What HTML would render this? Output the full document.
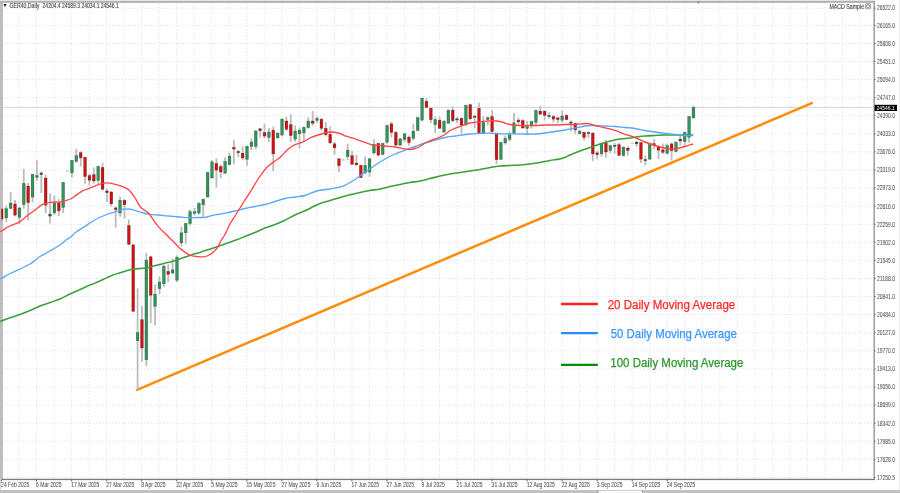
<!DOCTYPE html>
<html><head><meta charset="utf-8"><title>GER40 Daily</title>
<style>html,body{margin:0;padding:0;background:#fff;overflow:hidden}svg{display:block;filter:blur(0.35px)}</style>
</head><body>
<svg width="900" height="493" viewBox="0 0 900 493">
<rect x="0" y="0" width="900" height="493" fill="#ffffff"/>
<rect x="0" y="0" width="2.9" height="479.5" fill="#bdbdbd"/>
<rect x="0" y="479" width="1" height="11" fill="#d4d4d4"/>
<path d="M19.0,3V478.9 M36.5,3V478.9 M54.0,3V478.9 M71.6,3V478.9 M89.1,3V478.9 M106.6,3V478.9 M124.1,3V478.9 M141.6,3V478.9 M159.2,3V478.9 M176.7,3V478.9 M194.2,3V478.9 M211.7,3V478.9 M229.2,3V478.9 M246.8,3V478.9 M264.3,3V478.9 M281.8,3V478.9 M299.3,3V478.9 M316.8,3V478.9 M334.4,3V478.9 M351.9,3V478.9 M369.4,3V478.9 M386.9,3V478.9 M404.4,3V478.9 M422.0,3V478.9 M439.5,3V478.9 M457.0,3V478.9 M474.5,3V478.9 M492.0,3V478.9 M509.6,3V478.9 M527.1,3V478.9 M544.6,3V478.9 M562.1,3V478.9 M579.6,3V478.9 M597.2,3V478.9 M614.7,3V478.9 M632.2,3V478.9 M649.7,3V478.9 M667.2,3V478.9 M684.8,3V478.9 M702.3,3V478.9 M719.8,3V478.9 M737.3,3V478.9 M754.8,3V478.9 M772.4,3V478.9 M789.9,3V478.9 M807.4,3V478.9 M824.9,3V478.9 M842.4,3V478.9 M860.0,3V478.9 M3,8.2H873.2 M3,25.4H873.2 M3,43.5H873.2 M3,61.5H873.2 M3,79.6H873.2 M3,97.7H873.2 M3,115.8H873.2 M3,133.9H873.2 M3,151.9H873.2 M3,170.0H873.2 M3,188.1H873.2 M3,206.2H873.2 M3,224.3H873.2 M3,242.3H873.2 M3,260.4H873.2 M3,278.5H873.2 M3,296.6H873.2 M3,314.7H873.2 M3,332.7H873.2 M3,350.8H873.2 M3,368.9H873.2 M3,387.0H873.2 M3,405.1H873.2 M3,423.1H873.2 M3,441.2H873.2 M3,459.3H873.2 M3,477.4H873.2" stroke="#e2e8f3" stroke-width="1" stroke-dasharray="1.6 1.6" fill="none"/>
<path d="M3,107.4H873.2" stroke="#c9d5ea" stroke-width="1" fill="none"/>
<path d="M137.0,389.9L811.8,103.1" stroke="#ff8d0a" stroke-width="2.5" stroke-linecap="round" fill="none"/>
<path d="M1.90,205.2V222.4 M6.28,205.7V221.9 M10.65,192.0V209.3 M15.03,200.1V216.3 M19.41,206.7V224.0 M23.78,168.8V208.7 M28.16,182.9V220.4 M32.54,173.8V202.2 M36.92,160.4V181.0 M41.29,171.4V193.0 M45.67,174.7V213.3 M50.05,193.5V223.4 M54.42,195.6V214.8 M58.80,199.1V216.3 M63.18,182.0V213.0 M71.93,160.0V177.4 M76.31,149.0V162.8 M80.69,151.3V166.5 M85.06,156.4V183.8 M89.44,173.8V185.6 M93.82,167.4V183.8 M98.19,165.6V183.8 M102.57,162.8V190.2 M106.95,188.4V202.0 M111.33,191.0V206.6 M115.70,206.6V227.6 M120.08,196.6V216.7 M124.46,199.3V218.5 M128.83,219.4V244.9 M133.21,243.7V312.0 M137.59,288.2V390.0 M141.96,306.1V361.6 M146.34,252.8V366.0 M150.72,255.8V323.0 M155.09,284.4V325.5 M159.47,276.5V294.2 M163.85,265.0V286.9 M168.23,264.3V282.0 M172.60,258.3V274.1 M176.98,255.2V282.0 M181.36,226.4V246.5 M185.73,222.8V243.8 M190.11,209.4V225.8 M194.49,207.9V215.2 M198.87,202.0V214.8 M203.24,198.4V216.7 M207.62,172.0V197.5 M212.00,160.0V178.3 M216.37,158.3V187.8 M220.75,164.6V178.3 M225.13,157.3V173.8 M229.50,152.8V165.6 M233.88,140.0V164.6 M238.26,150.0V157.3 M242.63,146.5V160.2 M247.01,145.5V165.7 M251.39,138.3V150.2 M255.77,130.1V149.3 M260.14,128.3V137.4 M264.52,123.7V138.3 M268.90,128.3V142.0 M273.27,126.5V171.2 M277.65,132.0V138.3 M282.03,118.3V136.5 M286.40,116.4V131.0 M290.78,114.2V142.0 M295.16,125.6V142.0 M299.54,127.4V148.4 M303.91,126.5V141.0 M308.29,117.3V128.8 M312.67,111.0V125.6 M317.04,116.4V122.8 M321.42,118.3V130.1 M325.80,121.9V136.5 M330.17,126.5V143.8 M334.55,142.0V154.8 M338.93,158.0V172.1 M347.68,143.8V160.2 M352.06,151.1V164.8 M356.44,154.8V165.7 M360.81,164.8V178.1 M365.19,156.6V173.9 M369.57,158.0V176.7 M373.94,139.2V154.4 M378.32,142.4V156.6 M382.70,142.9V154.8 M387.08,124.6V143.8 M391.45,122.0V137.5 M395.83,131.1V145.7 M400.21,137.8V146.2 M404.58,132.9V142.0 M408.96,135.6V145.7 M413.34,123.8V140.2 M417.71,116.5V131.1 M422.09,97.7V121.0 M426.47,98.2V108.3 M430.85,107.3V122.9 M435.22,116.5V132.9 M439.60,116.5V129.2 M443.98,120.1V132.9 M448.35,109.2V123.8 M452.73,106.4V121.9 M457.11,117.0V122.9 M461.48,117.4V133.8 M465.86,104.6V126.5 M470.24,103.7V120.1 M474.62,114.6V128.3 M478.99,102.8V133.8 M483.37,116.5V133.8 M487.75,116.5V125.6 M492.12,110.1V132.4 M496.50,132.4V163.9 M500.88,141.5V159.7 M505.25,135.6V144.4 M509.63,131.6V141.1 M514.01,112.8V133.8 M518.39,117.4V125.6 M522.76,119.2V128.7 M527.14,121.0V135.2 M531.52,120.6V128.8 M535.89,109.6V125.1 M540.27,106.0V115.1 M544.65,110.5V120.6 M549.02,112.3V118.7 M553.40,115.1V122.4 M557.78,116.9V123.3 M562.16,110.5V122.4 M566.53,114.2V120.2 M570.91,120.6V131.5 M575.29,122.4V134.2 M579.66,129.7V134.2 M584.04,131.5V140.6 M588.42,131.5V137.9 M592.79,132.4V161.0 M597.17,151.1V159.3 M601.55,142.9V156.6 M605.93,140.1V157.8 M610.30,144.7V152.9 M614.68,142.9V153.8 M619.06,142.9V156.0 M623.43,146.5V156.6 M627.81,146.5V155.6 M636.56,141.0V146.5 M640.94,142.0V162.9 M645.32,155.4V165.5 M649.70,143.1V160.0 M654.07,139.0V149.5 M658.45,145.4V159.1 M662.83,143.4V153.8 M667.20,143.4V154.3 M671.58,142.8V160.4 M675.96,141.6V152.5 M680.33,136.1V145.2 M684.71,131.5V146.1 M689.09,116.0V142.8 M693.47,105.6V118.7" stroke="#bcbcbc" stroke-width="1.8" fill="none"/>
<rect x="1.3" y="208.7" width="1.9" height="10.7" fill="#9a1818"/>
<rect x="4.88" y="208.7" width="2.8" height="9.2" fill="#31945a" stroke="#000" stroke-opacity=".4" stroke-width=".5"/>
<rect x="9.25" y="203.0" width="2.8" height="5.4" fill="#31945a" stroke="#000" stroke-opacity=".4" stroke-width=".5"/>
<rect x="13.63" y="204.0" width="2.8" height="11.1" fill="#d01212" stroke="#000" stroke-opacity=".4" stroke-width=".5"/>
<rect x="18.01" y="208.0" width="2.8" height="9.4" fill="#31945a" stroke="#000" stroke-opacity=".4" stroke-width=".5"/>
<rect x="22.38" y="183.4" width="2.8" height="21.3" fill="#31945a" stroke="#000" stroke-opacity=".4" stroke-width=".5"/>
<rect x="26.76" y="186.0" width="2.8" height="16.7" fill="#d01212" stroke="#000" stroke-opacity=".4" stroke-width=".5"/>
<rect x="31.14" y="174.3" width="2.8" height="22.8" fill="#31945a" stroke="#000" stroke-opacity=".4" stroke-width=".5"/>
<rect x="35.52" y="175.6" width="2.8" height="1.8" fill="#31945a" stroke="#000" stroke-opacity=".4" stroke-width=".5"/>
<rect x="39.89" y="172.9" width="2.8" height="1.8" fill="#555555" stroke="#000" stroke-opacity=".4" stroke-width=".5"/>
<rect x="44.27" y="178.0" width="2.8" height="27.2" fill="#d01212" stroke="#000" stroke-opacity=".4" stroke-width=".5"/>
<rect x="48.65" y="214.1" width="2.8" height="2.0" fill="#2a6040" stroke="#000" stroke-opacity=".4" stroke-width=".5"/>
<rect x="53.02" y="203.2" width="2.8" height="9.6" fill="#31945a" stroke="#000" stroke-opacity=".4" stroke-width=".5"/>
<rect x="57.40" y="203.2" width="2.8" height="7.6" fill="#d01212" stroke="#000" stroke-opacity=".4" stroke-width=".5"/>
<rect x="61.78" y="182.4" width="2.8" height="25.1" fill="#31945a" stroke="#000" stroke-opacity=".4" stroke-width=".5"/>
<rect x="66.06" y="170.4" width="3" height="1.2" fill="#8fe08f"/>
<rect x="70.53" y="160.4" width="2.8" height="12.5" fill="#31945a" stroke="#000" stroke-opacity=".4" stroke-width=".5"/>
<rect x="74.91" y="155.5" width="2.8" height="6.0" fill="#31945a" stroke="#000" stroke-opacity=".4" stroke-width=".5"/>
<rect x="79.29" y="152.6" width="2.8" height="5.3" fill="#d01212" stroke="#000" stroke-opacity=".4" stroke-width=".5"/>
<rect x="83.66" y="157.3" width="2.8" height="19.2" fill="#d01212" stroke="#000" stroke-opacity=".4" stroke-width=".5"/>
<rect x="88.04" y="175.6" width="2.8" height="4.7" fill="#d01212" stroke="#000" stroke-opacity=".4" stroke-width=".5"/>
<rect x="92.42" y="174.7" width="2.8" height="6.3" fill="#d01212" stroke="#000" stroke-opacity=".4" stroke-width=".5"/>
<rect x="96.79" y="166.5" width="2.8" height="14.0" fill="#31945a" stroke="#000" stroke-opacity=".4" stroke-width=".5"/>
<rect x="101.17" y="167.4" width="2.8" height="21.9" fill="#d01212" stroke="#000" stroke-opacity=".4" stroke-width=".5"/>
<rect x="105.55" y="191.0" width="2.8" height="1.6" fill="#8a1c1c" stroke="#000" stroke-opacity=".4" stroke-width=".5"/>
<rect x="109.92" y="192.0" width="2.8" height="11.9" fill="#d01212" stroke="#000" stroke-opacity=".4" stroke-width=".5"/>
<rect x="114.30" y="207.9" width="2.8" height="1.8" fill="#d01212" stroke="#000" stroke-opacity=".4" stroke-width=".5"/>
<rect x="118.68" y="200.2" width="2.8" height="12.8" fill="#31945a" stroke="#000" stroke-opacity=".4" stroke-width=".5"/>
<rect x="123.06" y="200.2" width="2.8" height="4.6" fill="#d01212" stroke="#000" stroke-opacity=".4" stroke-width=".5"/>
<rect x="127.43" y="225.5" width="2.8" height="18.8" fill="#d01212" stroke="#000" stroke-opacity=".4" stroke-width=".5"/>
<rect x="131.81" y="244.9" width="2.8" height="66.4" fill="#d01212" stroke="#000" stroke-opacity=".4" stroke-width=".5"/>
<rect x="136.19" y="332.5" width="2.8" height="8.2" fill="#31945a" stroke="#000" stroke-opacity=".4" stroke-width=".5"/>
<rect x="140.56" y="319.7" width="2.8" height="28.3" fill="#d01212" stroke="#000" stroke-opacity=".4" stroke-width=".5"/>
<rect x="144.94" y="260.1" width="2.8" height="99.7" fill="#31945a" stroke="#000" stroke-opacity=".4" stroke-width=".5"/>
<rect x="149.32" y="256.8" width="2.8" height="38.4" fill="#d01212" stroke="#000" stroke-opacity=".4" stroke-width=".5"/>
<rect x="153.69" y="294.2" width="2.8" height="12.2" fill="#31945a" stroke="#000" stroke-opacity=".4" stroke-width=".5"/>
<rect x="158.07" y="282.0" width="2.8" height="6.7" fill="#31945a" stroke="#000" stroke-opacity=".4" stroke-width=".5"/>
<rect x="162.45" y="266.2" width="2.8" height="17.6" fill="#31945a" stroke="#000" stroke-opacity=".4" stroke-width=".5"/>
<rect x="166.83" y="271.4" width="2.8" height="2.9" fill="#d01212" stroke="#000" stroke-opacity=".4" stroke-width=".5"/>
<rect x="171.20" y="269.8" width="2.8" height="3.3" fill="#31945a" stroke="#000" stroke-opacity=".4" stroke-width=".5"/>
<rect x="175.58" y="257.2" width="2.8" height="23.0" fill="#31945a" stroke="#000" stroke-opacity=".4" stroke-width=".5"/>
<rect x="179.96" y="232.8" width="2.8" height="10.1" fill="#31945a" stroke="#000" stroke-opacity=".4" stroke-width=".5"/>
<rect x="184.33" y="223.5" width="2.8" height="9.3" fill="#31945a" stroke="#000" stroke-opacity=".4" stroke-width=".5"/>
<rect x="188.71" y="211.7" width="2.8" height="11.8" fill="#31945a" stroke="#000" stroke-opacity=".4" stroke-width=".5"/>
<rect x="193.09" y="211.6" width="2.8" height="1.8" fill="#31945a" stroke="#000" stroke-opacity=".4" stroke-width=".5"/>
<rect x="197.47" y="203.5" width="2.8" height="9.5" fill="#31945a" stroke="#000" stroke-opacity=".4" stroke-width=".5"/>
<rect x="201.84" y="199.3" width="2.8" height="5.5" fill="#31945a" stroke="#000" stroke-opacity=".4" stroke-width=".5"/>
<rect x="206.22" y="172.5" width="2.8" height="24.5" fill="#31945a" stroke="#000" stroke-opacity=".4" stroke-width=".5"/>
<rect x="210.60" y="161.9" width="2.8" height="16.1" fill="#31945a" stroke="#000" stroke-opacity=".4" stroke-width=".5"/>
<rect x="214.97" y="163.4" width="2.8" height="6.7" fill="#d01212" stroke="#000" stroke-opacity=".4" stroke-width=".5"/>
<rect x="219.35" y="166.5" width="2.8" height="5.5" fill="#d01212" stroke="#000" stroke-opacity=".4" stroke-width=".5"/>
<rect x="223.73" y="161.5" width="2.8" height="11.7" fill="#31945a" stroke="#000" stroke-opacity=".4" stroke-width=".5"/>
<rect x="228.10" y="156.0" width="2.8" height="8.6" fill="#31945a" stroke="#000" stroke-opacity=".4" stroke-width=".5"/>
<rect x="232.48" y="147.3" width="2.8" height="1.8" fill="#d01212" stroke="#000" stroke-opacity=".4" stroke-width=".5"/>
<rect x="236.86" y="151.3" width="2.8" height="1.5" fill="#555555" stroke="#000" stroke-opacity=".4" stroke-width=".5"/>
<rect x="241.23" y="153.2" width="2.8" height="4.8" fill="#d01212" stroke="#000" stroke-opacity=".4" stroke-width=".5"/>
<rect x="245.61" y="146.4" width="2.8" height="12.9" fill="#31945a" stroke="#000" stroke-opacity=".4" stroke-width=".5"/>
<rect x="249.99" y="142.0" width="2.8" height="4.5" fill="#31945a" stroke="#000" stroke-opacity=".4" stroke-width=".5"/>
<rect x="254.37" y="131.0" width="2.8" height="15.5" fill="#31945a" stroke="#000" stroke-opacity=".4" stroke-width=".5"/>
<rect x="258.74" y="128.8" width="2.8" height="1.9" fill="#8a1c1c" stroke="#000" stroke-opacity=".4" stroke-width=".5"/>
<rect x="263.12" y="132.5" width="2.8" height="3.6" fill="#d01212" stroke="#000" stroke-opacity=".4" stroke-width=".5"/>
<rect x="267.50" y="132.0" width="2.8" height="5.4" fill="#31945a" stroke="#000" stroke-opacity=".4" stroke-width=".5"/>
<rect x="271.87" y="130.1" width="2.8" height="23.8" fill="#d01212" stroke="#000" stroke-opacity=".4" stroke-width=".5"/>
<rect x="276.25" y="133.2" width="2.8" height="4.8" fill="#31945a" stroke="#000" stroke-opacity=".4" stroke-width=".5"/>
<rect x="280.63" y="119.2" width="2.8" height="15.8" fill="#31945a" stroke="#000" stroke-opacity=".4" stroke-width=".5"/>
<rect x="285.00" y="121.0" width="2.8" height="8.2" fill="#d01212" stroke="#000" stroke-opacity=".4" stroke-width=".5"/>
<rect x="289.38" y="124.6" width="2.8" height="11.0" fill="#d01212" stroke="#000" stroke-opacity=".4" stroke-width=".5"/>
<rect x="293.76" y="131.0" width="2.8" height="8.2" fill="#31945a" stroke="#000" stroke-opacity=".4" stroke-width=".5"/>
<rect x="298.14" y="130.1" width="2.8" height="3.7" fill="#31945a" stroke="#000" stroke-opacity=".4" stroke-width=".5"/>
<rect x="302.51" y="127.4" width="2.8" height="5.5" fill="#31945a" stroke="#000" stroke-opacity=".4" stroke-width=".5"/>
<rect x="306.89" y="121.0" width="2.8" height="6.7" fill="#31945a" stroke="#000" stroke-opacity=".4" stroke-width=".5"/>
<rect x="311.27" y="121.0" width="2.8" height="2.4" fill="#d01212" stroke="#000" stroke-opacity=".4" stroke-width=".5"/>
<rect x="315.64" y="118.3" width="2.8" height="2.1" fill="#31945a" stroke="#000" stroke-opacity=".4" stroke-width=".5"/>
<rect x="320.02" y="119.2" width="2.8" height="9.1" fill="#d01212" stroke="#000" stroke-opacity=".4" stroke-width=".5"/>
<rect x="324.40" y="128.3" width="2.8" height="6.4" fill="#d01212" stroke="#000" stroke-opacity=".4" stroke-width=".5"/>
<rect x="328.77" y="134.3" width="2.8" height="8.6" fill="#d01212" stroke="#000" stroke-opacity=".4" stroke-width=".5"/>
<rect x="333.15" y="143.8" width="2.8" height="4.0" fill="#d01212" stroke="#000" stroke-opacity=".4" stroke-width=".5"/>
<rect x="337.53" y="158.8" width="2.8" height="6.9" fill="#d01212" stroke="#000" stroke-opacity=".4" stroke-width=".5"/>
<rect x="341.81" y="159.3" width="3" height="1.2" fill="#8fe08f"/>
<rect x="346.28" y="150.2" width="2.8" height="6.4" fill="#31945a" stroke="#000" stroke-opacity=".4" stroke-width=".5"/>
<rect x="350.66" y="155.7" width="2.8" height="8.6" fill="#d01212" stroke="#000" stroke-opacity=".4" stroke-width=".5"/>
<rect x="355.04" y="163.0" width="2.8" height="1.8" fill="#d01212" stroke="#000" stroke-opacity=".4" stroke-width=".5"/>
<rect x="359.41" y="165.4" width="2.8" height="12.2" fill="#d01212" stroke="#000" stroke-opacity=".4" stroke-width=".5"/>
<rect x="363.79" y="165.4" width="2.8" height="7.6" fill="#31945a" stroke="#000" stroke-opacity=".4" stroke-width=".5"/>
<rect x="368.17" y="158.8" width="2.8" height="13.3" fill="#31945a" stroke="#000" stroke-opacity=".4" stroke-width=".5"/>
<rect x="372.54" y="144.7" width="2.8" height="8.2" fill="#31945a" stroke="#000" stroke-opacity=".4" stroke-width=".5"/>
<rect x="376.92" y="143.4" width="2.8" height="11.7" fill="#d01212" stroke="#000" stroke-opacity=".4" stroke-width=".5"/>
<rect x="381.30" y="143.4" width="2.8" height="11.2" fill="#31945a" stroke="#000" stroke-opacity=".4" stroke-width=".5"/>
<rect x="385.68" y="125.6" width="2.8" height="16.6" fill="#31945a" stroke="#000" stroke-opacity=".4" stroke-width=".5"/>
<rect x="390.05" y="123.8" width="2.8" height="8.6" fill="#d01212" stroke="#000" stroke-opacity=".4" stroke-width=".5"/>
<rect x="394.43" y="132.4" width="2.8" height="12.7" fill="#d01212" stroke="#000" stroke-opacity=".4" stroke-width=".5"/>
<rect x="398.81" y="138.9" width="2.8" height="6.2" fill="#31945a" stroke="#000" stroke-opacity=".4" stroke-width=".5"/>
<rect x="403.18" y="133.8" width="2.8" height="5.9" fill="#31945a" stroke="#000" stroke-opacity=".4" stroke-width=".5"/>
<rect x="407.56" y="137.1" width="2.8" height="5.5" fill="#d01212" stroke="#000" stroke-opacity=".4" stroke-width=".5"/>
<rect x="411.94" y="131.1" width="2.8" height="7.3" fill="#31945a" stroke="#000" stroke-opacity=".4" stroke-width=".5"/>
<rect x="416.31" y="117.7" width="2.8" height="12.8" fill="#31945a" stroke="#000" stroke-opacity=".4" stroke-width=".5"/>
<rect x="420.69" y="98.2" width="2.8" height="21.9" fill="#31945a" stroke="#000" stroke-opacity=".4" stroke-width=".5"/>
<rect x="425.07" y="101.3" width="2.8" height="6.0" fill="#d01212" stroke="#000" stroke-opacity=".4" stroke-width=".5"/>
<rect x="429.45" y="108.3" width="2.8" height="11.3" fill="#d01212" stroke="#000" stroke-opacity=".4" stroke-width=".5"/>
<rect x="433.82" y="119.6" width="2.8" height="5.1" fill="#31945a" stroke="#000" stroke-opacity=".4" stroke-width=".5"/>
<rect x="438.20" y="120.1" width="2.8" height="8.2" fill="#d01212" stroke="#000" stroke-opacity=".4" stroke-width=".5"/>
<rect x="442.58" y="121.4" width="2.8" height="10.6" fill="#31945a" stroke="#000" stroke-opacity=".4" stroke-width=".5"/>
<rect x="446.95" y="110.4" width="2.8" height="12.8" fill="#31945a" stroke="#000" stroke-opacity=".4" stroke-width=".5"/>
<rect x="451.33" y="110.1" width="2.8" height="10.6" fill="#d01212" stroke="#000" stroke-opacity=".4" stroke-width=".5"/>
<rect x="455.71" y="118.8" width="2.8" height="1.2" fill="#555555" stroke="#000" stroke-opacity=".4" stroke-width=".5"/>
<rect x="460.08" y="118.3" width="2.8" height="6.7" fill="#d01212" stroke="#000" stroke-opacity=".4" stroke-width=".5"/>
<rect x="464.46" y="105.5" width="2.8" height="19.2" fill="#31945a" stroke="#000" stroke-opacity=".4" stroke-width=".5"/>
<rect x="468.84" y="104.6" width="2.8" height="14.2" fill="#d01212" stroke="#000" stroke-opacity=".4" stroke-width=".5"/>
<rect x="473.22" y="116.1" width="2.8" height="1.3" fill="#555555" stroke="#000" stroke-opacity=".4" stroke-width=".5"/>
<rect x="477.59" y="108.3" width="2.8" height="24.6" fill="#d01212" stroke="#000" stroke-opacity=".4" stroke-width=".5"/>
<rect x="481.97" y="122.5" width="2.8" height="10.4" fill="#31945a" stroke="#000" stroke-opacity=".4" stroke-width=".5"/>
<rect x="486.35" y="117.7" width="2.8" height="1.9" fill="#31945a" stroke="#000" stroke-opacity=".4" stroke-width=".5"/>
<rect x="490.72" y="116.5" width="2.8" height="15.1" fill="#d01212" stroke="#000" stroke-opacity=".4" stroke-width=".5"/>
<rect x="495.10" y="133.8" width="2.8" height="25.9" fill="#d01212" stroke="#000" stroke-opacity=".4" stroke-width=".5"/>
<rect x="499.48" y="142.6" width="2.8" height="16.8" fill="#31945a" stroke="#000" stroke-opacity=".4" stroke-width=".5"/>
<rect x="503.85" y="138.4" width="2.8" height="4.5" fill="#31945a" stroke="#000" stroke-opacity=".4" stroke-width=".5"/>
<rect x="508.23" y="134.7" width="2.8" height="4.6" fill="#31945a" stroke="#000" stroke-opacity=".4" stroke-width=".5"/>
<rect x="512.61" y="122.9" width="2.8" height="10.5" fill="#31945a" stroke="#000" stroke-opacity=".4" stroke-width=".5"/>
<rect x="516.99" y="120.1" width="2.8" height="1.8" fill="#d01212" stroke="#000" stroke-opacity=".4" stroke-width=".5"/>
<rect x="521.36" y="120.5" width="2.8" height="7.5" fill="#d01212" stroke="#000" stroke-opacity=".4" stroke-width=".5"/>
<rect x="525.74" y="126.5" width="2.8" height="1.8" fill="#31945a" stroke="#000" stroke-opacity=".4" stroke-width=".5"/>
<rect x="530.12" y="121.5" width="2.8" height="3.6" fill="#31945a" stroke="#000" stroke-opacity=".4" stroke-width=".5"/>
<rect x="534.49" y="110.5" width="2.8" height="11.9" fill="#31945a" stroke="#000" stroke-opacity=".4" stroke-width=".5"/>
<rect x="538.87" y="111.1" width="2.8" height="3.1" fill="#d01212" stroke="#000" stroke-opacity=".4" stroke-width=".5"/>
<rect x="543.25" y="111.1" width="2.8" height="4.3" fill="#d01212" stroke="#000" stroke-opacity=".4" stroke-width=".5"/>
<rect x="547.62" y="115.4" width="2.8" height="1.2" fill="#555555" stroke="#000" stroke-opacity=".4" stroke-width=".5"/>
<rect x="552.00" y="116.5" width="2.8" height="2.6" fill="#d01212" stroke="#000" stroke-opacity=".4" stroke-width=".5"/>
<rect x="556.38" y="117.8" width="2.8" height="1.8" fill="#d01212" stroke="#000" stroke-opacity=".4" stroke-width=".5"/>
<rect x="560.76" y="116.0" width="2.8" height="4.2" fill="#31945a" stroke="#000" stroke-opacity=".4" stroke-width=".5"/>
<rect x="565.13" y="115.4" width="2.8" height="4.2" fill="#d01212" stroke="#000" stroke-opacity=".4" stroke-width=".5"/>
<rect x="569.51" y="122.0" width="2.8" height="1.3" fill="#555555" stroke="#000" stroke-opacity=".4" stroke-width=".5"/>
<rect x="573.89" y="123.3" width="2.8" height="6.7" fill="#d01212" stroke="#000" stroke-opacity=".4" stroke-width=".5"/>
<rect x="578.26" y="131.1" width="2.8" height="2.6" fill="#31945a" stroke="#000" stroke-opacity=".4" stroke-width=".5"/>
<rect x="582.64" y="132.4" width="2.8" height="5.0" fill="#d01212" stroke="#000" stroke-opacity=".4" stroke-width=".5"/>
<rect x="587.02" y="132.4" width="2.8" height="1.3" fill="#555555" stroke="#000" stroke-opacity=".4" stroke-width=".5"/>
<rect x="591.39" y="133.0" width="2.8" height="20.8" fill="#d01212" stroke="#000" stroke-opacity=".4" stroke-width=".5"/>
<rect x="595.77" y="152.9" width="2.8" height="1.8" fill="#d01212" stroke="#000" stroke-opacity=".4" stroke-width=".5"/>
<rect x="600.15" y="143.8" width="2.8" height="10.0" fill="#31945a" stroke="#000" stroke-opacity=".4" stroke-width=".5"/>
<rect x="604.53" y="143.2" width="2.8" height="8.8" fill="#d01212" stroke="#000" stroke-opacity=".4" stroke-width=".5"/>
<rect x="608.90" y="145.6" width="2.8" height="4.9" fill="#31945a" stroke="#000" stroke-opacity=".4" stroke-width=".5"/>
<rect x="613.28" y="145.2" width="2.8" height="1.3" fill="#555555" stroke="#000" stroke-opacity=".4" stroke-width=".5"/>
<rect x="617.66" y="144.7" width="2.8" height="10.6" fill="#d01212" stroke="#000" stroke-opacity=".4" stroke-width=".5"/>
<rect x="622.03" y="147.1" width="2.8" height="8.5" fill="#31945a" stroke="#000" stroke-opacity=".4" stroke-width=".5"/>
<rect x="626.41" y="148.0" width="2.8" height="2.5" fill="#d01212" stroke="#000" stroke-opacity=".4" stroke-width=".5"/>
<rect x="630.69" y="142.6" width="3" height="1.2" fill="#8fe08f"/>
<rect x="635.16" y="142.0" width="2.8" height="1.8" fill="#2a6040" stroke="#000" stroke-opacity=".4" stroke-width=".5"/>
<rect x="639.54" y="142.5" width="2.8" height="16.6" fill="#d01212" stroke="#000" stroke-opacity=".4" stroke-width=".5"/>
<rect x="643.92" y="159.4" width="2.8" height="1.4" fill="#555555" stroke="#000" stroke-opacity=".4" stroke-width=".5"/>
<rect x="648.30" y="143.8" width="2.8" height="15.3" fill="#31945a" stroke="#000" stroke-opacity=".4" stroke-width=".5"/>
<rect x="652.67" y="143.6" width="2.8" height="2.0" fill="#d01212" stroke="#000" stroke-opacity=".4" stroke-width=".5"/>
<rect x="657.05" y="146.5" width="2.8" height="3.7" fill="#d01212" stroke="#000" stroke-opacity=".4" stroke-width=".5"/>
<rect x="661.43" y="149.8" width="2.8" height="2.6" fill="#d01212" stroke="#000" stroke-opacity=".4" stroke-width=".5"/>
<rect x="665.80" y="145.7" width="2.8" height="7.7" fill="#31945a" stroke="#000" stroke-opacity=".4" stroke-width=".5"/>
<rect x="670.18" y="143.9" width="2.8" height="6.8" fill="#d01212" stroke="#000" stroke-opacity=".4" stroke-width=".5"/>
<rect x="674.56" y="142.1" width="2.8" height="9.5" fill="#31945a" stroke="#000" stroke-opacity=".4" stroke-width=".5"/>
<rect x="678.93" y="139.2" width="2.8" height="1.8" fill="#8a1c1c" stroke="#000" stroke-opacity=".4" stroke-width=".5"/>
<rect x="683.31" y="132.4" width="2.8" height="9.2" fill="#31945a" stroke="#000" stroke-opacity=".4" stroke-width=".5"/>
<rect x="687.69" y="116.5" width="2.8" height="20.9" fill="#31945a" stroke="#000" stroke-opacity=".4" stroke-width=".5"/>
<rect x="692.07" y="107.4" width="2.8" height="10.4" fill="#31945a" stroke="#000" stroke-opacity=".4" stroke-width=".5"/>
<path d="M0.00,321.50C0.33,321.38 0.33,321.42 2.00,320.80C3.67,320.18 7.00,318.85 10.00,317.80C13.00,316.75 16.67,315.72 20.00,314.50C23.33,313.28 26.67,311.92 30.00,310.50C33.33,309.08 36.67,307.33 40.00,306.00C43.33,304.67 46.67,303.67 50.00,302.50C53.33,301.33 56.67,300.42 60.00,299.00C63.33,297.58 66.67,295.58 70.00,294.00C73.33,292.42 76.67,291.00 80.00,289.50C83.33,288.00 87.50,286.07 90.00,285.00C92.50,283.93 92.82,284.02 95.00,283.10C97.18,282.18 100.40,280.72 103.10,279.50C105.80,278.28 108.50,276.88 111.20,275.80C113.90,274.72 116.60,273.88 119.30,273.00C122.00,272.12 125.10,271.12 127.40,270.50C129.70,269.88 131.07,269.63 133.10,269.30C135.13,268.97 137.17,268.77 139.60,268.50C142.03,268.23 145.67,268.03 147.70,267.70C149.73,267.37 149.77,267.03 151.80,266.50C153.83,265.97 157.70,265.05 159.90,264.50C162.10,263.95 162.67,263.77 165.00,263.20C167.33,262.63 170.90,262.00 173.90,261.10C176.90,260.20 179.97,258.87 183.00,257.80C186.03,256.73 189.27,255.60 192.10,254.70C194.93,253.80 196.83,253.40 200.00,252.40C203.17,251.40 207.43,249.93 211.10,248.70C214.77,247.47 217.85,246.45 222.00,245.00C226.15,243.55 232.17,241.42 236.00,240.00C239.83,238.58 241.83,237.75 245.00,236.50C248.17,235.25 251.67,233.92 255.00,232.50C258.33,231.08 261.67,229.33 265.00,228.00C268.33,226.67 271.67,225.80 275.00,224.50C278.33,223.20 281.67,221.78 285.00,220.20C288.33,218.62 291.67,216.57 295.00,215.00C298.33,213.43 301.67,212.33 305.00,210.80C308.33,209.27 312.17,207.13 315.00,205.80C317.83,204.47 319.50,203.68 322.00,202.80C324.50,201.92 327.00,201.38 330.00,200.50C333.00,199.62 336.67,198.45 340.00,197.50C343.33,196.55 346.67,195.63 350.00,194.80C353.33,193.97 356.67,193.22 360.00,192.50C363.33,191.78 366.67,191.08 370.00,190.50C373.33,189.92 376.67,189.67 380.00,189.00C383.33,188.33 386.67,187.25 390.00,186.50C393.33,185.75 396.67,185.17 400.00,184.50C403.33,183.83 406.67,183.08 410.00,182.50C413.33,181.92 416.67,181.67 420.00,181.00C423.33,180.33 426.67,179.33 430.00,178.50C433.33,177.67 436.67,176.75 440.00,176.00C443.33,175.25 446.67,174.58 450.00,174.00C453.33,173.42 456.67,173.00 460.00,172.50C463.33,172.00 466.67,171.50 470.00,171.00C473.33,170.50 476.67,170.08 480.00,169.50C483.33,168.92 486.67,168.08 490.00,167.50C493.33,166.92 496.67,166.33 500.00,166.00C503.33,165.67 506.67,165.67 510.00,165.50C513.33,165.33 516.67,165.25 520.00,165.00C523.33,164.75 526.67,164.42 530.00,164.00C533.33,163.58 536.67,163.08 540.00,162.50C543.33,161.92 546.67,161.08 550.00,160.50C553.33,159.92 557.33,159.58 560.00,159.00C562.67,158.42 564.33,157.67 566.00,157.00C567.67,156.33 567.67,156.00 570.00,155.00C572.33,154.00 576.67,152.25 580.00,151.00C583.33,149.75 586.67,148.67 590.00,147.50C593.33,146.33 597.50,144.83 600.00,144.00C602.50,143.17 602.50,143.17 605.00,142.50C607.50,141.83 611.67,140.67 615.00,140.00C618.33,139.33 621.67,138.97 625.00,138.50C628.33,138.03 631.67,137.62 635.00,137.20C638.33,136.78 641.67,136.28 645.00,136.00C648.33,135.72 651.67,135.67 655.00,135.50C658.33,135.33 658.67,135.08 665.00,135.00C671.33,134.92 688.33,135.00 693.00,135.00" stroke="#3c9f3c" stroke-width="1.55" fill="none" stroke-linejoin="round"/>
<path d="M0.00,278.50C0.33,278.42 0.33,278.83 2.00,278.00C3.67,277.17 7.00,275.00 10.00,273.50C13.00,272.00 16.67,270.58 20.00,269.00C23.33,267.42 27.50,265.42 30.00,264.00C32.50,262.58 33.33,261.75 35.00,260.50C36.67,259.25 37.50,258.08 40.00,256.50C42.50,254.92 46.67,252.92 50.00,251.00C53.33,249.08 57.25,246.88 60.00,245.00C62.75,243.12 64.83,240.95 66.50,239.70C68.17,238.45 68.38,238.78 70.00,237.50C71.62,236.22 73.82,233.78 76.20,232.00C78.58,230.22 81.60,228.55 84.30,226.80C87.00,225.05 89.68,223.13 92.40,221.50C95.12,219.87 97.88,218.28 100.60,217.00C103.32,215.72 106.00,214.73 108.70,213.80C111.40,212.87 114.78,212.05 116.80,211.40C118.82,210.75 119.43,210.27 120.80,209.90C122.17,209.53 123.47,209.33 125.00,209.20C126.53,209.07 128.62,209.00 130.00,209.10C131.38,209.20 131.37,209.25 133.30,209.80C135.23,210.35 138.82,211.63 141.60,212.40C144.38,213.17 147.22,213.97 150.00,214.40C152.78,214.83 155.53,214.77 158.30,215.00C161.07,215.23 163.83,215.53 166.60,215.80C169.37,216.07 172.13,216.35 174.90,216.60C177.67,216.85 180.42,217.13 183.20,217.30C185.98,217.47 188.82,217.57 191.60,217.60C194.38,217.63 197.67,217.53 199.90,217.50C202.13,217.47 203.62,217.55 205.00,217.40C206.38,217.25 206.53,217.02 208.20,216.60C209.87,216.18 212.20,215.47 215.00,214.90C217.80,214.33 221.67,213.85 225.00,213.20C228.33,212.55 231.67,211.78 235.00,211.00C238.33,210.22 241.67,209.25 245.00,208.50C248.33,207.75 251.67,207.17 255.00,206.50C258.33,205.83 261.67,205.33 265.00,204.50C268.33,203.67 271.67,202.50 275.00,201.50C278.33,200.50 281.67,199.25 285.00,198.50C288.33,197.75 291.67,197.50 295.00,197.00C298.33,196.50 301.38,196.50 305.00,195.50C308.62,194.50 312.53,192.08 316.70,191.00C320.87,189.92 325.62,189.80 330.00,189.00C334.38,188.20 339.67,187.28 343.00,186.20C346.33,185.12 348.00,183.62 350.00,182.50C352.00,181.38 353.33,180.58 355.00,179.50C356.67,178.42 358.33,177.20 360.00,176.00C361.67,174.80 363.33,173.50 365.00,172.30C366.67,171.10 368.33,169.98 370.00,168.80C371.67,167.62 372.50,166.83 375.00,165.20C377.50,163.57 381.67,160.87 385.00,159.00C388.33,157.13 391.67,155.50 395.00,154.00C398.33,152.50 401.67,151.25 405.00,150.00C408.33,148.75 411.67,147.67 415.00,146.50C418.33,145.33 421.67,144.08 425.00,143.00C428.33,141.92 431.67,140.92 435.00,140.00C438.33,139.08 441.67,138.17 445.00,137.50C448.33,136.83 450.83,136.58 455.00,136.00C459.17,135.42 465.83,134.42 470.00,134.00C474.17,133.58 476.67,133.63 480.00,133.50C483.33,133.37 486.67,133.15 490.00,133.20C493.33,133.25 496.67,133.70 500.00,133.80C503.33,133.90 505.83,133.77 510.00,133.80C514.17,133.83 520.83,133.97 525.00,134.00C529.17,134.03 531.67,134.17 535.00,134.00C538.33,133.83 541.67,133.42 545.00,133.00C548.33,132.58 551.67,132.00 555.00,131.50C558.33,131.00 561.67,130.58 565.00,130.00C568.33,129.42 571.67,128.67 575.00,128.00C578.33,127.33 582.50,126.42 585.00,126.00C587.50,125.58 588.33,125.58 590.00,125.50C591.67,125.42 592.50,125.42 595.00,125.50C597.50,125.58 601.67,125.83 605.00,126.00C608.33,126.17 611.67,126.25 615.00,126.50C618.33,126.75 621.67,127.17 625.00,127.50C628.33,127.83 631.67,128.00 635.00,128.50C638.33,129.00 641.67,129.92 645.00,130.50C648.33,131.08 651.67,131.50 655.00,132.00C658.33,132.50 661.67,133.08 665.00,133.50C668.33,133.92 671.67,134.17 675.00,134.50C678.33,134.83 681.92,135.33 685.00,135.50C688.08,135.67 692.08,135.50 693.50,135.50" stroke="#55a8fb" stroke-width="1.35" fill="none" stroke-linejoin="round"/>
<path d="M0.00,231.50C0.42,231.33 1.48,231.08 2.50,230.50C3.52,229.92 4.83,228.75 6.10,228.00C7.37,227.25 8.58,226.68 10.10,226.00C11.62,225.32 13.67,224.53 15.20,223.90C16.73,223.27 17.95,223.03 19.30,222.20C20.65,221.37 21.78,220.13 23.30,218.90C24.82,217.67 26.72,216.07 28.40,214.80C30.08,213.53 31.72,212.57 33.40,211.30C35.08,210.03 36.97,208.35 38.50,207.20C40.03,206.05 41.35,205.05 42.60,204.40C43.85,203.75 44.65,203.65 46.00,203.30C47.35,202.95 49.08,202.52 50.70,202.30C52.32,202.08 54.15,202.02 55.70,202.00C57.25,201.98 58.45,202.40 60.00,202.20C61.55,202.00 63.25,201.33 65.00,200.80C66.75,200.27 69.17,199.55 70.50,199.00C71.83,198.45 71.07,198.82 73.00,197.50C74.93,196.18 79.42,192.62 82.10,191.10C84.78,189.58 86.40,189.47 89.10,188.40C91.80,187.33 95.55,185.62 98.30,184.70C101.05,183.78 103.48,183.13 105.60,182.90C107.72,182.67 109.18,183.00 111.00,183.30C112.82,183.60 114.37,184.07 116.50,184.70C118.63,185.33 121.67,186.18 123.80,187.10C125.93,188.02 127.47,188.47 129.30,190.20C131.13,191.93 133.02,194.80 134.80,197.50C136.58,200.20 138.58,204.42 140.00,206.40C141.42,208.38 142.20,208.53 143.30,209.40C144.40,210.27 145.48,210.67 146.60,211.60C147.72,212.53 148.05,212.50 150.00,215.00C151.95,217.50 155.53,223.28 158.30,226.60C161.07,229.92 163.83,232.13 166.60,234.90C169.37,237.67 172.68,240.97 174.90,243.20C177.12,245.43 178.52,247.03 179.90,248.30C181.28,249.57 182.08,249.97 183.20,250.80C184.32,251.63 185.20,252.48 186.60,253.30C188.00,254.12 189.95,255.17 191.60,255.70C193.25,256.23 194.57,256.30 196.50,256.50C198.43,256.70 201.25,257.07 203.20,256.90C205.15,256.73 206.53,256.28 208.20,255.50C209.87,254.72 211.67,253.52 213.20,252.20C214.73,250.88 216.03,249.63 217.40,247.60C218.77,245.57 220.13,242.18 221.40,240.00C222.67,237.82 223.57,237.17 225.00,234.50C226.43,231.83 228.33,227.08 230.00,224.00C231.67,220.92 233.33,218.67 235.00,216.00C236.67,213.33 238.33,210.67 240.00,208.00C241.67,205.33 242.92,203.28 245.00,200.00C247.08,196.72 250.32,191.80 252.50,188.30C254.68,184.80 256.48,181.50 258.10,179.00C259.72,176.50 260.85,175.13 262.20,173.30C263.55,171.47 264.85,169.48 266.20,168.00C267.55,166.52 268.93,165.48 270.30,164.40C271.67,163.32 273.05,162.45 274.40,161.50C275.75,160.55 277.05,159.78 278.40,158.70C279.75,157.62 281.15,156.35 282.50,155.00C283.85,153.65 285.15,151.88 286.50,150.60C287.85,149.32 289.25,148.25 290.60,147.30C291.95,146.35 293.03,145.58 294.60,144.90C296.17,144.22 298.27,143.85 300.00,143.20C301.73,142.55 303.33,141.87 305.00,141.00C306.67,140.13 308.33,138.83 310.00,138.00C311.67,137.17 312.50,136.83 315.00,136.00C317.50,135.17 322.17,133.67 325.00,133.00C327.83,132.33 329.50,131.92 332.00,132.00C334.50,132.08 337.83,132.87 340.00,133.50C342.17,134.13 342.50,134.92 345.00,135.80C347.50,136.68 351.67,137.72 355.00,138.80C358.33,139.88 362.33,141.33 365.00,142.30C367.67,143.27 369.33,144.18 371.00,144.60C372.67,145.02 372.67,144.57 375.00,144.80C377.33,145.03 381.67,145.63 385.00,146.00C388.33,146.37 391.67,146.50 395.00,147.00C398.33,147.50 402.50,148.58 405.00,149.00C407.50,149.42 408.33,149.58 410.00,149.50C411.67,149.42 413.33,149.00 415.00,148.50C416.67,148.00 418.33,147.42 420.00,146.50C421.67,145.58 423.33,143.92 425.00,143.00C426.67,142.08 428.33,141.67 430.00,141.00C431.67,140.33 433.33,139.67 435.00,139.00C436.67,138.33 438.33,137.75 440.00,137.00C441.67,136.25 443.33,135.58 445.00,134.50C446.67,133.42 448.33,131.53 450.00,130.50C451.67,129.47 453.33,129.00 455.00,128.30C456.67,127.60 457.50,127.18 460.00,126.30C462.50,125.42 466.67,123.75 470.00,123.00C473.33,122.25 476.67,122.17 480.00,121.80C483.33,121.43 486.67,120.85 490.00,120.80C493.33,120.75 496.67,120.88 500.00,121.50C503.33,122.12 506.67,123.82 510.00,124.50C513.33,125.18 515.83,125.43 520.00,125.60C524.17,125.77 530.83,125.60 535.00,125.50C539.17,125.40 541.67,125.08 545.00,125.00C548.33,124.92 551.67,125.08 555.00,125.00C558.33,124.92 561.67,124.58 565.00,124.50C568.33,124.42 571.67,124.67 575.00,124.50C578.33,124.33 582.50,123.62 585.00,123.50C587.50,123.38 588.33,123.47 590.00,123.80C591.67,124.13 592.50,124.83 595.00,125.50C597.50,126.17 601.67,126.98 605.00,127.80C608.33,128.62 611.67,129.32 615.00,130.40C618.33,131.48 621.67,133.12 625.00,134.30C628.33,135.48 631.67,136.22 635.00,137.50C638.33,138.78 641.67,140.67 645.00,142.00C648.33,143.33 651.67,144.50 655.00,145.50C658.33,146.50 662.50,147.45 665.00,148.00C667.50,148.55 668.33,148.67 670.00,148.80C671.67,148.93 672.50,149.18 675.00,148.80C677.50,148.42 682.00,147.30 685.00,146.50C688.00,145.70 691.67,144.42 693.00,144.00" stroke="#ff4646" stroke-width="1.35" fill="none" stroke-linejoin="round"/>
<rect x="0" y="0" width="875" height="1" fill="#e4e4e4"/>
<rect x="0" y="1.1" width="875.0" height="1.7" fill="#ababab"/>
<rect x="873.4" y="1" width="1.6" height="479.0" fill="#a4a4a4"/>
<rect x="2" y="478.8" width="873.0" height="1.3" fill="#7a7a7a"/>
<rect x="899" y="0" width="1" height="493" fill="#ececec"/>
<path d="M696.1,1.2H700.5L698.3,4.1Z" fill="#7f96b6"/>
<rect x="0" y="490" width="900" height="3" fill="#c2c2c2"/>
<rect x="597.6" y="490" width="45.5" height="3" fill="#8c8c8c"/>
<rect x="598.4" y="490.4" width="43.9" height="2.6" fill="#f9f9f9"/>
<path d="M874.2,8.2h1.4 M874.2,25.4h1.4 M874.2,43.5h1.4 M874.2,61.5h1.4 M874.2,79.6h1.4 M874.2,97.7h1.4 M874.2,115.8h1.4 M874.2,133.9h1.4 M874.2,151.9h1.4 M874.2,170.0h1.4 M874.2,188.1h1.4 M874.2,206.2h1.4 M874.2,224.3h1.4 M874.2,242.3h1.4 M874.2,260.4h1.4 M874.2,278.5h1.4 M874.2,296.6h1.4 M874.2,314.7h1.4 M874.2,332.7h1.4 M874.2,350.8h1.4 M874.2,368.9h1.4 M874.2,387.0h1.4 M874.2,405.1h1.4 M874.2,423.1h1.4 M874.2,441.2h1.4 M874.2,459.3h1.4 M874.2,477.4h1.4" stroke="#555" stroke-width="0.9"/>
<path d="M1.5,479.4v2 M36.5,479.4v2 M71.6,479.4v2 M106.6,479.4v2 M141.6,479.4v2 M176.7,479.4v2 M211.7,479.4v2 M246.8,479.4v2 M281.8,479.4v2 M316.8,479.4v2 M351.9,479.4v2 M386.9,479.4v2 M422.0,479.4v2 M457.0,479.4v2 M492.0,479.4v2 M527.1,479.4v2 M562.1,479.4v2 M597.2,479.4v2 M632.2,479.4v2 M667.2,479.4v2" stroke="#555" stroke-width="0.9"/>
<text x="877.0" y="9.7" font-size="6.7" font-family="Liberation Sans, Arial, sans-serif" fill="#555555" stroke="#555555" stroke-width="0.06" textLength="18.0" lengthAdjust="spacingAndGlyphs">26522.0</text>
<text x="877.0" y="27.7" font-size="6.7" font-family="Liberation Sans, Arial, sans-serif" fill="#555555" stroke="#555555" stroke-width="0.06" textLength="18.0" lengthAdjust="spacingAndGlyphs">26165.0</text>
<text x="877.0" y="45.8" font-size="6.7" font-family="Liberation Sans, Arial, sans-serif" fill="#555555" stroke="#555555" stroke-width="0.06" textLength="18.0" lengthAdjust="spacingAndGlyphs">25808.0</text>
<text x="877.0" y="63.9" font-size="6.7" font-family="Liberation Sans, Arial, sans-serif" fill="#555555" stroke="#555555" stroke-width="0.06" textLength="18.0" lengthAdjust="spacingAndGlyphs">25451.0</text>
<text x="877.0" y="82.0" font-size="6.7" font-family="Liberation Sans, Arial, sans-serif" fill="#555555" stroke="#555555" stroke-width="0.06" textLength="18.0" lengthAdjust="spacingAndGlyphs">25094.0</text>
<text x="877.0" y="100.0" font-size="6.7" font-family="Liberation Sans, Arial, sans-serif" fill="#555555" stroke="#555555" stroke-width="0.06" textLength="18.0" lengthAdjust="spacingAndGlyphs">24747.0</text>
<text x="877.0" y="118.1" font-size="6.7" font-family="Liberation Sans, Arial, sans-serif" fill="#555555" stroke="#555555" stroke-width="0.06" textLength="18.0" lengthAdjust="spacingAndGlyphs">24390.0</text>
<text x="877.0" y="136.2" font-size="6.7" font-family="Liberation Sans, Arial, sans-serif" fill="#555555" stroke="#555555" stroke-width="0.06" textLength="18.0" lengthAdjust="spacingAndGlyphs">24033.0</text>
<text x="877.0" y="154.3" font-size="6.7" font-family="Liberation Sans, Arial, sans-serif" fill="#555555" stroke="#555555" stroke-width="0.06" textLength="18.0" lengthAdjust="spacingAndGlyphs">23676.0</text>
<text x="877.0" y="172.4" font-size="6.7" font-family="Liberation Sans, Arial, sans-serif" fill="#555555" stroke="#555555" stroke-width="0.06" textLength="18.0" lengthAdjust="spacingAndGlyphs">23319.0</text>
<text x="877.0" y="190.4" font-size="6.7" font-family="Liberation Sans, Arial, sans-serif" fill="#555555" stroke="#555555" stroke-width="0.06" textLength="18.0" lengthAdjust="spacingAndGlyphs">22973.0</text>
<text x="877.0" y="208.5" font-size="6.7" font-family="Liberation Sans, Arial, sans-serif" fill="#555555" stroke="#555555" stroke-width="0.06" textLength="18.0" lengthAdjust="spacingAndGlyphs">22616.0</text>
<text x="877.0" y="226.6" font-size="6.7" font-family="Liberation Sans, Arial, sans-serif" fill="#555555" stroke="#555555" stroke-width="0.06" textLength="18.0" lengthAdjust="spacingAndGlyphs">22259.0</text>
<text x="877.0" y="244.7" font-size="6.7" font-family="Liberation Sans, Arial, sans-serif" fill="#555555" stroke="#555555" stroke-width="0.06" textLength="18.0" lengthAdjust="spacingAndGlyphs">21902.0</text>
<text x="877.0" y="262.8" font-size="6.7" font-family="Liberation Sans, Arial, sans-serif" fill="#555555" stroke="#555555" stroke-width="0.06" textLength="18.0" lengthAdjust="spacingAndGlyphs">21545.0</text>
<text x="877.0" y="280.9" font-size="6.7" font-family="Liberation Sans, Arial, sans-serif" fill="#555555" stroke="#555555" stroke-width="0.06" textLength="18.0" lengthAdjust="spacingAndGlyphs">21188.0</text>
<text x="877.0" y="298.9" font-size="6.7" font-family="Liberation Sans, Arial, sans-serif" fill="#555555" stroke="#555555" stroke-width="0.06" textLength="18.0" lengthAdjust="spacingAndGlyphs">20841.0</text>
<text x="877.0" y="317.0" font-size="6.7" font-family="Liberation Sans, Arial, sans-serif" fill="#555555" stroke="#555555" stroke-width="0.06" textLength="18.0" lengthAdjust="spacingAndGlyphs">20484.0</text>
<text x="877.0" y="335.1" font-size="6.7" font-family="Liberation Sans, Arial, sans-serif" fill="#555555" stroke="#555555" stroke-width="0.06" textLength="18.0" lengthAdjust="spacingAndGlyphs">20127.0</text>
<text x="877.0" y="353.2" font-size="6.7" font-family="Liberation Sans, Arial, sans-serif" fill="#555555" stroke="#555555" stroke-width="0.06" textLength="18.0" lengthAdjust="spacingAndGlyphs">19770.0</text>
<text x="877.0" y="371.2" font-size="6.7" font-family="Liberation Sans, Arial, sans-serif" fill="#555555" stroke="#555555" stroke-width="0.06" textLength="18.0" lengthAdjust="spacingAndGlyphs">19413.0</text>
<text x="877.0" y="389.3" font-size="6.7" font-family="Liberation Sans, Arial, sans-serif" fill="#555555" stroke="#555555" stroke-width="0.06" textLength="18.0" lengthAdjust="spacingAndGlyphs">19056.0</text>
<text x="877.0" y="407.4" font-size="6.7" font-family="Liberation Sans, Arial, sans-serif" fill="#555555" stroke="#555555" stroke-width="0.06" textLength="18.0" lengthAdjust="spacingAndGlyphs">18699.0</text>
<text x="877.0" y="425.5" font-size="6.7" font-family="Liberation Sans, Arial, sans-serif" fill="#555555" stroke="#555555" stroke-width="0.06" textLength="18.0" lengthAdjust="spacingAndGlyphs">18342.0</text>
<text x="877.0" y="443.6" font-size="6.7" font-family="Liberation Sans, Arial, sans-serif" fill="#555555" stroke="#555555" stroke-width="0.06" textLength="18.0" lengthAdjust="spacingAndGlyphs">17985.0</text>
<text x="877.0" y="461.6" font-size="6.7" font-family="Liberation Sans, Arial, sans-serif" fill="#555555" stroke="#555555" stroke-width="0.06" textLength="18.0" lengthAdjust="spacingAndGlyphs">17628.0</text>
<text x="877.0" y="479.7" font-size="6.7" font-family="Liberation Sans, Arial, sans-serif" fill="#555555" stroke="#555555" stroke-width="0.06" textLength="18.0" lengthAdjust="spacingAndGlyphs">17250.5</text>
<rect x="874.6" y="104.8" width="22.4" height="6.2" fill="#000"/>
<text x="876.6" y="110.0" font-size="6.1" font-family="Liberation Sans, Arial, sans-serif" fill="#fff" textLength="18" lengthAdjust="spacingAndGlyphs">24546.1</text>
<g transform="translate(1.1,486.6) scale(0.775,1)"><text x="0" y="0" font-size="6.5" font-family="Liberation Sans, Arial, sans-serif" fill="#555555" stroke="#555555" stroke-width="0.08">24 Feb 2025</text></g>
<g transform="translate(36.1,486.6) scale(0.775,1)"><text x="0" y="0" font-size="6.5" font-family="Liberation Sans, Arial, sans-serif" fill="#555555" stroke="#555555" stroke-width="0.08">6 Mar 2025</text></g>
<g transform="translate(71.2,486.6) scale(0.775,1)"><text x="0" y="0" font-size="6.5" font-family="Liberation Sans, Arial, sans-serif" fill="#555555" stroke="#555555" stroke-width="0.08">17 Mar 2025</text></g>
<g transform="translate(106.2,486.6) scale(0.775,1)"><text x="0" y="0" font-size="6.5" font-family="Liberation Sans, Arial, sans-serif" fill="#555555" stroke="#555555" stroke-width="0.08">27 Mar 2025</text></g>
<g transform="translate(141.2,486.6) scale(0.775,1)"><text x="0" y="0" font-size="6.5" font-family="Liberation Sans, Arial, sans-serif" fill="#555555" stroke="#555555" stroke-width="0.08">8 Apr 2025</text></g>
<g transform="translate(176.3,486.6) scale(0.775,1)"><text x="0" y="0" font-size="6.5" font-family="Liberation Sans, Arial, sans-serif" fill="#555555" stroke="#555555" stroke-width="0.08">22 Apr 2025</text></g>
<g transform="translate(211.3,486.6) scale(0.775,1)"><text x="0" y="0" font-size="6.5" font-family="Liberation Sans, Arial, sans-serif" fill="#555555" stroke="#555555" stroke-width="0.08">5 May 2025</text></g>
<g transform="translate(246.4,486.6) scale(0.775,1)"><text x="0" y="0" font-size="6.5" font-family="Liberation Sans, Arial, sans-serif" fill="#555555" stroke="#555555" stroke-width="0.08">15 May 2025</text></g>
<g transform="translate(281.4,486.6) scale(0.775,1)"><text x="0" y="0" font-size="6.5" font-family="Liberation Sans, Arial, sans-serif" fill="#555555" stroke="#555555" stroke-width="0.08">27 May 2025</text></g>
<g transform="translate(316.4,486.6) scale(0.775,1)"><text x="0" y="0" font-size="6.5" font-family="Liberation Sans, Arial, sans-serif" fill="#555555" stroke="#555555" stroke-width="0.08">6 Jun 2025</text></g>
<g transform="translate(351.5,486.6) scale(0.775,1)"><text x="0" y="0" font-size="6.5" font-family="Liberation Sans, Arial, sans-serif" fill="#555555" stroke="#555555" stroke-width="0.08">17 Jun 2025</text></g>
<g transform="translate(386.5,486.6) scale(0.775,1)"><text x="0" y="0" font-size="6.5" font-family="Liberation Sans, Arial, sans-serif" fill="#555555" stroke="#555555" stroke-width="0.08">27 Jun 2025</text></g>
<g transform="translate(421.6,486.6) scale(0.775,1)"><text x="0" y="0" font-size="6.5" font-family="Liberation Sans, Arial, sans-serif" fill="#555555" stroke="#555555" stroke-width="0.08">9 Jul 2025</text></g>
<g transform="translate(456.6,486.6) scale(0.775,1)"><text x="0" y="0" font-size="6.5" font-family="Liberation Sans, Arial, sans-serif" fill="#555555" stroke="#555555" stroke-width="0.08">21 Jul 2025</text></g>
<g transform="translate(491.6,486.6) scale(0.775,1)"><text x="0" y="0" font-size="6.5" font-family="Liberation Sans, Arial, sans-serif" fill="#555555" stroke="#555555" stroke-width="0.08">31 Jul 2025</text></g>
<g transform="translate(526.7,486.6) scale(0.775,1)"><text x="0" y="0" font-size="6.5" font-family="Liberation Sans, Arial, sans-serif" fill="#555555" stroke="#555555" stroke-width="0.08">12 Aug 2025</text></g>
<g transform="translate(561.7,486.6) scale(0.775,1)"><text x="0" y="0" font-size="6.5" font-family="Liberation Sans, Arial, sans-serif" fill="#555555" stroke="#555555" stroke-width="0.08">22 Aug 2025</text></g>
<g transform="translate(596.8,486.6) scale(0.775,1)"><text x="0" y="0" font-size="6.5" font-family="Liberation Sans, Arial, sans-serif" fill="#555555" stroke="#555555" stroke-width="0.08">3 Sep 2025</text></g>
<g transform="translate(631.8,486.6) scale(0.775,1)"><text x="0" y="0" font-size="6.5" font-family="Liberation Sans, Arial, sans-serif" fill="#555555" stroke="#555555" stroke-width="0.08">14 Sep 2025</text></g>
<g transform="translate(666.8,486.6) scale(0.775,1)"><text x="0" y="0" font-size="6.5" font-family="Liberation Sans, Arial, sans-serif" fill="#555555" stroke="#555555" stroke-width="0.08">24 Sep 2025</text></g>
<path d="M3.3,4.0h3.4l-1.7,2.9z" fill="#1a1a1a"/>
<g transform="translate(9.4,7.9) scale(0.825,1)"><text x="0" y="0" font-size="6.3" font-family="Liberation Sans, Arial, sans-serif" fill="#505058" stroke="#505058" stroke-width="0.15">GER40,Daily</text></g>
<text x="42.6" y="7.9" font-size="6.3" font-family="Liberation Sans, Arial, sans-serif" fill="#505058" stroke="#505058" stroke-width="0.15" textLength="76.2" lengthAdjust="spacingAndGlyphs">24204.4 24589.3 24034.1 24546.1</text>
<text x="829.4" y="8.5" font-size="6.5" font-family="Liberation Sans, Arial, sans-serif" fill="#505058" stroke="#505058" stroke-width="0.15" textLength="34.7" lengthAdjust="spacingAndGlyphs">MACD Sample</text>
<rect x="865.4" y="3.6" width="5.2" height="5.2" rx="0.8" fill="#e8e8ee" stroke="#777" stroke-width="0.6"/>
<circle cx="868" cy="6.2" r="1.7" fill="none" stroke="#555" stroke-width="0.5"/>
<path d="M561,304H597.9" stroke="#ff2020" stroke-width="2.6"/>
<path d="M561,333.1H597.9" stroke="#2a8cff" stroke-width="2.2"/>
<path d="M561,364.9H597.9" stroke="#0a8a0a" stroke-width="2.4"/>
<text x="607.7" y="309.4" font-family="Liberation Sans, Arial, sans-serif" font-size="11.9" stroke-width="0.25" fill="#ff2a2a" stroke="#ff2a2a" textLength="127.6" lengthAdjust="spacingAndGlyphs">20 Daily Moving Average</text>
<text x="610.7" y="337.6" font-family="Liberation Sans, Arial, sans-serif" font-size="11.9" stroke-width="0.25" fill="#3d97ff" stroke="#3d97ff" textLength="126.2" lengthAdjust="spacingAndGlyphs">50 Daily Moving Average</text>
<text x="610.3" y="367.3" font-family="Liberation Sans, Arial, sans-serif" font-size="11.9" stroke-width="0.25" fill="#2f962f" stroke="#2f962f" textLength="133.1" lengthAdjust="spacingAndGlyphs">100 Daily Moving Average</text>
</svg>
</body></html>
